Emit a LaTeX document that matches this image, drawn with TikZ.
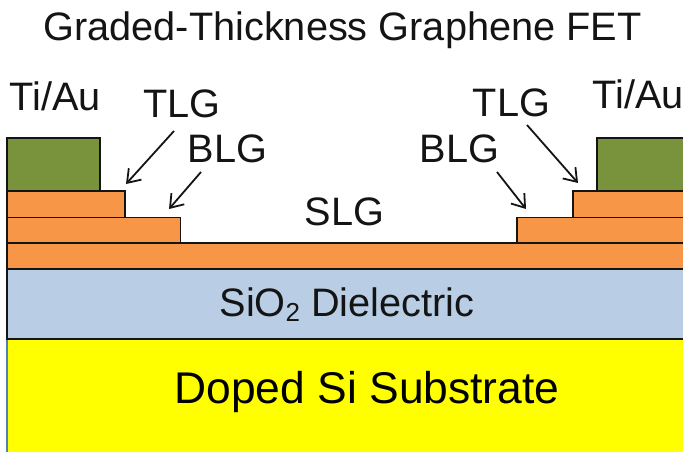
\documentclass[tikz,border=0pt]{standalone}
\usepackage{fontspec}
\setmainfont{Liberation Sans}
\usetikzlibrary{arrows.meta}
\definecolor{metal}{HTML}{78933C}
\definecolor{graph}{HTML}{F79646}
\definecolor{oxide}{HTML}{B9CDE5}
\definecolor{edgeblue}{HTML}{4F81BD}
\definecolor{ink}{HTML}{141414}
\definecolor{subst}{HTML}{FFFF00}
\tikzset{
  layer/.style={draw=ink,line width=1.8pt,line join=miter},
  lbl/.style={inner sep=0pt,text=ink,font=\fontsize{39.7}{44}\selectfont},
  big/.style={inner sep=0pt,text=black,font=\fontsize{44.4}{50}\selectfont},
  pointer/.style={draw=ink,line width=1.8pt,-{Straight Barb[length=12pt,width=17pt,line width=1.8pt]}},
}
\begin{document}
\begin{tikzpicture}[x=1pt,y=-1pt]
\useasboundingbox (0,0) rectangle (683,452);
% substrate
\fill[subst] (7,339) rectangle (683,452);
\draw[edgeblue,line width=1.2pt] (7,339) -- (7,452);
\draw[layer,fill=oxide] (683,339) -- (7,339) -- (7,269) -- (683,269);
% graphene layers
\draw[layer,fill=graph] (683,269) -- (7,269) -- (7,243) -- (683,243);
\draw[layer,fill=graph] (7,243) rectangle (180.5,217.5);
\draw[layer,fill=graph] (7,217.5) rectangle (125,191);
\draw[layer,fill=graph] (683,243) -- (517,243) -- (517,217.5) -- (683,217.5);
\draw[layer,fill=graph] (683,217.5) -- (573,217.5) -- (573,191) -- (683,191);
% contacts
\draw[layer,fill=metal] (7,191) rectangle (100,138);
\draw[layer,fill=metal] (683,191) -- (597,191) -- (597,138) -- (683,138);
% labels
\node[lbl] (title) at (342.5,30.5) {Graded-Thickness Graphene FET};
\node[lbl] (tial) at (55,96) {Ti/Au};
\node[lbl] (tiar) at (638,94) {Ti/Au};
\node[lbl] (tlgl) at (182,104) {TLG};
\node[lbl] (blgl) at (227.5,149) {BLG};
\node[lbl] (tlgr) at (511.5,103) {TLG};
\node[lbl] (blgr) at (459.5,149) {BLG};
\node[lbl] (slg) at (344.5,212) {SLG};
\node[lbl,anchor=base] (sio) at (347,316) {SiO\raisebox{-0.13em}{\fontsize{26}{28}\selectfont 2} Dielectric};
\node[big] (sub) at (367,392) {Doped Si Substrate};
% arrows
\coordinate (tlglS) at (174,131);
\coordinate (tlglE) at (126,184);
\coordinate (blglS) at (201,172);
\coordinate (blglE) at (169,209);
\coordinate (tlgrS) at (527,125);
\coordinate (tlgrE) at (578,183);
\coordinate (blgrS) at (497,172);
\coordinate (blgrE) at (526,209);
\draw[pointer] (tlglS) -- (tlglE);
\draw[pointer] (blglS) -- (blglE);
\draw[pointer] (tlgrS) -- (tlgrE);
\draw[pointer] (blgrS) -- (blgrE);
\end{tikzpicture}
\end{document}
